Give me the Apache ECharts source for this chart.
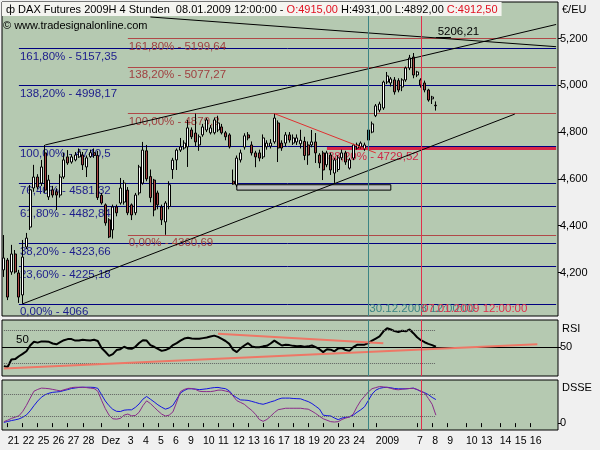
<!DOCTYPE html>
<html>
<head>
<meta charset="utf-8">
<title>DAX Futures 2009H 4 Stunden</title>
<script src="https://cdn.jsdelivr.net/npm/echarts@6/dist/echarts.min.js"></script>
<style>
html, body { margin: 0; padding: 0; background: #f0f0f0; }
#main { width: 600px; height: 450px; }
</style>
</head>
<body>
<div id="main"></div>
<script>
// 4-Stunden-Kerzen, Index 0 = erste Kerze (21.11.)
var slotCount = 148;
var dayTicks  = [1, 5, 9, 13, 17, 21, 26, 33, 37, 41, 45, 49, 53, 57, 61, 65, 69, 73, 77, 81, 85, 89, 93, 99, 110, 114, 118, 123, 127, 132, 136, 140];
var dayLabels = ['21', '22', '25', '26', '27', '28', 'Dez', '3', '4', '5', '6', '9', '10', '11', '12', '13', '16', '17', '18', '19', '20', '23', '24', '2009', '7', '8', '9', '10', '13', '14', '15', '16'];

var opens = [4211,4253,4202,4279,4198,4104,4309,4394,4561,4608, 4582,4711,4523,4553,4545,4531,4608,4694,4672,4681,
  4694,4702,4651,4695,4712,4700,4530,4489,4425,4382, 4480,4497,4501,4552,4489,4455,4540,4582,4720,4610,
  4595,4540,4480,4416,4482,4640,4681,4723,4732,4737, 4809,4796,4745,4788,4809,4797,4797,4809,4822,4797,
  4788,4590,4574,4681,4736,4788,4745,4711,4711,4694, 4737,4740,4758,4839,4753,4753,4788,4753,4758,4750,
  4760,4745,4745,4758,4702,4711,4660,4702,4625,4640, 4690,4711,4646,4689,4732,4737,4728,4766,4800,4870,
  4894,4903,5014,5010,5023,5020,4993,5023,5074,5121, 5044,5023,5010,4980,4942,4915];
var closes = [4262,4095,4279,4202,4095,4266,4347,4553,4608,4565, 4651,4552,4595,4531,4531,4608,4681,4668,4694,4702,
  4715,4660,4690,4712,4700,4520,4497,4412,4352,4480, 4455,4561,4582,4455,4446,4531,4651,4723,4600,4520,
  4467,4489,4425,4497,4575,4680,4723,4737,4753,4818, 4780,4758,4780,4822,4852,4818,4852,4839,4797,4780,
  4737,4578,4689,4711,4784,4775,4711,4694,4689,4775, 4753,4753,4860,4732,4732,4788,4766,4775,4775,4765,
  4700,4702,4758,4711,4668,4638,4711,4638,4681,4690, 4711,4672,4681,4745,4745,4753,4745,4809,4835,4912,
  4920,5014,5040,5027,4972,4980,5023,5074,5117,5044, 5057,5001,4980,4937,4950,4912.5];
var lows = [4181,4082,4190,4195,4070,4066,4300,4382,4545,4555, 4570,4540,4510,4520,4467,4520,4600,4660,4665,4675,
  4690,4638,4608,4690,4690,4510,4490,4400,4347,4345, 4440,4490,4490,4445,4424,4445,4530,4575,4590,4500,
  4440,4470,4403,4361,4470,4600,4638,4715,4725,4651, 4770,4740,4720,4780,4800,4790,4790,4800,4790,4765,
  4730,4575,4565,4670,4725,4765,4700,4650,4675,4685, 4725,4730,4750,4672,4720,4740,4755,4745,4745,4730,
  4680,4660,4735,4668,4646,4595,4650,4617,4583,4630, 4680,4660,4640,4680,4725,4730,4720,4760,4795,4864,
  4885,4895,5005,4995,4960,4970,4975,5015,5065,5030, 5035,4990,4970,4930,4920,4892];
var highs = [4360,4262,4318,4296,4211,4339,4369,4574,4660,4620, 4681,4745,4617,4570,4560,4620,4711,4723,4705,4715,
  4730,4715,4700,4725,4730,4720,4540,4495,4432,4490, 4490,4604,4595,4565,4495,4540,4660,4758,4745,4640,
  4600,4550,4490,4505,4590,4690,4730,4775,4765,4852, 4820,4879,4790,4835,4860,4830,4862,4870,4835,4805,
  4795,4640,4700,4725,4795,4800,4760,4720,4725,4790, 4765,4770,4879,4850,4765,4800,4800,4790,4790,4810,
  4780,4760,4809,4796,4710,4720,4720,4712,4690,4700, 4725,4720,4690,4750,4755,4760,4755,4815,4845,4920,
  4930,5020,5057,5035,5035,5030,5030,5080,5130,5138, 5062,5030,5020,4985,4955,4931];

var rsi = [27,26,35,35.5,39,41.8,45,52,56.5,55.5, 57,57,56.5,54.5,53.5,56,58.5,59.8,59.8,58,
  58,59,58.5,58,59,57.5,49,44.5,39.5,41.5, 46.5,47.5,50.5,48.5,48,50.5,55,58.5,58,52.5,
  50.5,48,45.5,46.5,48.5,52.5,55,58,60.5,61.5, 60.5,60.2,60.2,61,61.8,63,64,62.5,60,57.5,
  54,47,44,48.5,52,54.9,51,50,50,51, 51.6,54.5,58,55,52,53,52.5,51.6,51,51.5,
  50.5,51,52,50,47.5,44,47.5,47,45,48.5, 49,46.5,45.5,50,52.8,52.8,53,55,58,60.5,
  63,69,73,71.5,69.5,68.5,70,69.3,71.5,67, 62,58.5,56,54,52.5,50.5];

var dsseFast = [2,4.5,7,9,11.5,16,22.5,34,48,61, 71.5,78.5,82.5,85,86,87,90,92.5,95.5,97,
  98.5,99,99,99,98.5,96,78.5,61,48,38, 32.5,32,35.7,36.7,36.7,43.5,53,66,73.5,66,
  58.5,50.5,44,38.5,42,49,66,83,90,94.7, 94.7,94,92.3,93.5,94.7,96.5,98,98.5,96.5,95,
  89,77,70,64,63.5,62.7,60,57,54,52, 55,58.5,61.5,66,69,69,69,68,67.5,67,
  63,59.5,54,46.5,39,22,20.5,19.8,14,9.5, 14,16,17.3,22,30,36.7,45,62,80,91,
  96,98,99,97.5,95.5,94.7,94.7,94.7,95.5,96.6, 92.5,87.5,84,78.5,71,65];
var dsseSlow = [4,8,13,16.5,20,32,49,69,88,93, 96.6,96,95,93,91,89,92,95,98,99,
  99,99,98,96.5,95.5,88,63,40,22,12, 11,13,22,25,20,21,30,48,61.5,54,
  44,34,25,19.5,22,31,58,87,93,96, 95.5,93,88,87,87,87,88.5,91,91,88.5,
  86,75,62,57,52,43,35,24,10,5, 10,19,29,37,39,41,41,41,41,41,
  39.5,38.5,33,26.5,19,12,8,4,3,4, 10,14,17,25,45,62,74,86,95,98,
  101,100,98.5,96,93,92,93.5,94.7,95.5,96, 93,88,83,68,52,22];

// Fibonacci-Niveaus
var fibBlue = [5157.35, 4998.17, 4740.5, 4581.32, 4482.84, 4323.66, 4225.18, 4066];
var fibBlueText = ['161,80% - 5157,35', '138,20% - 4998,17', '100,00% - 4740,5', '76,40% - 4581,32',
  '61,80% - 4482,84', '38,20% - 4323,66', '23,60% - 4225,18', '0,00% - 4066'];
var fibRed = [5199.64, 5077.27, 4879.2, 4360.69];
var fibRedText = ['161,80% - 5199,64', '138,20% - 5077,27', '100,00% - 4879,2', '0,00% - 4360,69'];
var fibKey = 4729.52;

// Trendlinien [index, kurs]
var channelTop = [[11, 4745], [147, 5260]];
var channelBottom = [[5, 4066], [136, 4877]];
var downTrend = [[39, 5292], [147, 5165]];
var triangleTop = [[72, 4879], [99, 4711]];
var supportBox = [[62, 4575], [103, 4552]];
var rsiSupport = [[0, 24.2], [142, 53.7]];
var rsiResist = [[57, 66.3], [101, 54.9]];
var cursorTeal = 97, cursorRed = 111;

var FONT = 'Liberation Sans, Arial, sans-serif';
var lastSlot = slotCount - 1;
var lastBar = opens.length - 1;

var cats = [];
for (var i = 0; i < slotCount; i++) cats.push(String(i));
var candles = opens.map(function (o, k) { return [o, closes[k], lows[k], highs[k]]; });

function isTick(index) { return dayTicks.indexOf(index) >= 0; }
function tickText(value, index) {
    var k = dayTicks.indexOf(parseInt(value, 10));
    return k >= 0 ? dayLabels[k] : '';
}
function seg(p0, p1, color, width, type) {
    return [{coord: p0, lineStyle: {color: color, width: width, type: type || 'solid'}}, {coord: p1}];
}
function level(x0, v, color, width, text, textColor) {
    var item = [{coord: [x0, v], lineStyle: {color: color, width: width, type: 'solid'}}, {coord: [lastSlot, v]}];
    item[0].label = {show: true, position: 'insideStartBottom', formatter: text, color: textColor,
        fontSize: 11.5, fontFamily: FONT, distance: [1, 2]};
    return item;
}
function cursors() {
    return [
        {xAxis: String(cursorTeal), lineStyle: {color: '#3c8484', width: 1, type: 'solid'}},
        {xAxis: String(cursorRed), lineStyle: {color: '#e0304c', width: 1, type: 'solid'}}
    ];
}
function xAx(grid, show) {
    return {
        type: 'category', gridIndex: grid, data: cats, boundaryGap: true, show: show,
        axisLine: {show: false}, splitLine: {show: false},
        axisTick: {show: true, alignWithLabel: true, interval: isTick, length: 4, lineStyle: {color: '#000'}},
        axisLabel: {interval: isTick, formatter: tickText, align: 'left', margin: 6,
            color: '#000', fontSize: 10.5, fontFamily: FONT}
    };
}
function yAx(grid, min, max, ticks, name, gap) {
    return {
        type: 'value', gridIndex: grid, position: 'right', min: min, max: max,
        splitLine: {show: false}, axisLine: {show: false},
        axisTick: {show: true, length: 3, customValues: ticks, lineStyle: {color: '#000'}},
        axisLabel: {customValues: ticks, margin: 2, color: '#000', fontSize: 11, fontFamily: FONT},
        name: name, nameLocation: 'end', nameGap: gap,
        nameTextStyle: {align: 'left', verticalAlign: 'middle', color: '#000', fontSize: 11,
            fontFamily: FONT, padding: [0, 0, 0, 4]}
    };
}

var panel = {show: true, backgroundColor: '#b5c9b1', borderColor: '#000', borderWidth: 1};

var fibLines = [];
fibBlue.forEach(function (v, k) { fibLines.push(level(4, v, '#000080', 1, fibBlueText[k], '#1c1c8c')); });
fibRed.forEach(function (v, k) { fibLines.push(level(33, v, '#b04848', 1, fibRedText[k], '#a04040')); });
fibLines.push(level(86, fibKey, '#d82848', 3, '38,20% - 4729,52', '#d02848'));

var option = {
    animation: false,
    backgroundColor: '#f0f0f0',
    title: [{
        left: 2, top: 2, padding: [2, 4, 1, 4], backgroundColor: '#f4f4f0',
        text: '{i|ф} {t|DAX Futures 2009H 4 Stunden  08.01.2009 12:00:00 - }{r|O:4915,00}{t| H:4931,00 L:4892,00 }{r|C:4912,50}',
        textStyle: {
            fontSize: 11, fontWeight: 'normal', fontFamily: FONT,
            rich: {
                i: {fontSize: 11, color: '#000', fontFamily: FONT},
                t: {fontSize: 11, color: '#000', fontFamily: FONT},
                r: {fontSize: 11, color: '#e01020', fontFamily: FONT}
            }
        }
    }, {
        left: 3, top: 20, padding: 0,
        text: '© www.tradesignalonline.com',
        textStyle: {fontSize: 11, fontWeight: 'normal', color: '#000', fontFamily: FONT}
    }],
    grid: [
        Object.assign({left: 2, top: 2, width: 556, height: 314}, panel),
        Object.assign({left: 2, top: 320, width: 556, height: 56}, panel),
        Object.assign({left: 2, top: 380, width: 556, height: 50}, panel)
    ],
    xAxis: [xAx(0, false), xAx(1, false), xAx(2, true)],
    yAxis: [
        yAx(0, 4014, 5356, [4200, 4400, 4600, 4800, 5000, 5200], '€/EU', -8),
        yAx(1, 15, 83, [50], 'RSI', -9),
        yAx(2, -19, 119, [0], 'DSSE', -8)
    ],
    series: [
        {
            name: 'fib', type: 'line', xAxisIndex: 0, yAxisIndex: 0, data: [], z: 1,
            markLine: {silent: true, symbol: ['none', 'none'], z: 1, label: {show: false}, data: fibLines},
            markArea: {
                silent: true, z: 1,
                itemStyle: {color: '#bfc3bf', borderColor: '#000', borderWidth: 1},
                data: [[{coord: supportBox[0]}, {coord: supportBox[1]}]]
            }
        },
        {
            name: 'DAX', type: 'candlestick', xAxisIndex: 0, yAxisIndex: 0, data: candles, z: 2,
            barWidth: 2.5,
            itemStyle: {color: '#ffffff', color0: '#a84444', borderColor: '#000', borderColor0: '#000', borderWidth: 1}
        },
        {
            name: 'trend', type: 'line', xAxisIndex: 0, yAxisIndex: 0, data: [], z: 3,
            markLine: {
                silent: true, symbol: ['none', 'none'], z: 5, label: {show: false},
                data: [
                    seg(channelTop[0], channelTop[1], '#000', 1),
                    seg(channelBottom[0], channelBottom[1], '#000', 1),
                    seg(downTrend[0], downTrend[1], '#000', 1),
                    seg(triangleTop[0], triangleTop[1], '#e03030', 1),
                    seg([115, 5204], [119, 5204], '#000', 1)
                ].concat(cursors())
            },
            markPoint: {
                silent: true, symbol: 'circle', symbolSize: 0, z: 5,
                data: [
                    {coord: [cursorTeal, 4044], label: {show: true, position: 'right', distance: 1,
                        formatter: '30.12.2008 12:00:00', color: '#3c8484', fontSize: 11.5, fontFamily: FONT}},
                    {coord: [cursorRed, 4044], label: {show: true, position: 'right', distance: 1,
                        formatter: '07.01.2009 12:00:00', color: '#e0304c', fontSize: 11.5, fontFamily: FONT}},
                    {coord: [121, 5228], label: {show: true, position: 'inside',
                        formatter: '5206,21', color: '#000', fontSize: 11.5, fontFamily: FONT}}
                ]
            }
        },
        {
            name: 'RSI', type: 'line', xAxisIndex: 1, yAxisIndex: 1, data: rsi, showSymbol: false,
            lineStyle: {color: '#000', width: 2}, z: 3,
            markLine: {
                silent: true, symbol: ['none', 'none'], label: {show: false},
                data: [
                    {yAxis: 50, lineStyle: {color: '#000', width: 1, type: 'solid'},
                        label: {show: true, position: 'insideStartTop', formatter: '50', color: '#000',
                            fontSize: 11.5, fontFamily: FONT, distance: [14, 1]}},
                    seg([0, 70], [lastBar, 70], '#606060', 1, 'dotted'),
                    seg([0, 30], [lastBar, 30], '#606060', 1, 'dotted'),
                    seg(rsiSupport[0], rsiSupport[1], '#ee7766', 2),
                    seg(rsiResist[0], rsiResist[1], '#ee7766', 2)
                ].concat(cursors())
            }
        },
        {
            name: 'DSSE', type: 'line', xAxisIndex: 2, yAxisIndex: 2, data: dsseFast, showSymbol: false,
            lineStyle: {color: '#1414e0', width: 1}, z: 3,
            markLine: {
                silent: true, symbol: ['none', 'none'], label: {show: false},
                data: [
                    seg([0, 80], [lastBar, 80], '#606060', 1, 'dotted'),
                    seg([0, 20], [lastBar, 20], '#606060', 1, 'dotted')
                ].concat(cursors())
            }
        },
        {
            name: 'DSSE Signal', type: 'line', xAxisIndex: 2, yAxisIndex: 2, data: dsseSlow, showSymbol: false,
            lineStyle: {color: '#8a2a8a', width: 1}, z: 3
        }
    ]
};

var chart = echarts.init(document.getElementById('main'));
chart.setOption(option);
</script>
</body>
</html>
